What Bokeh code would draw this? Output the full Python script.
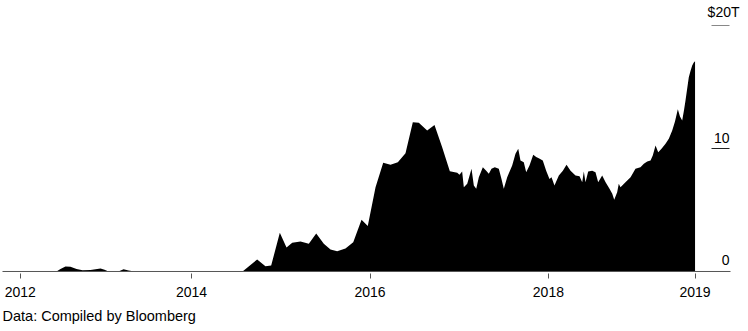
from bokeh.plotting import figure
from bokeh.models import Range1d, FixedTicker, ColumnDataSource, Title
from bokeh.embed import file_html
from bokeh.resources import INLINE
from bokeh.core.properties import value

# ---- data (decimal years, $ trillions) ----
dates = [2011.880, 2012.306, 2012.396, 2012.485, 2012.530, 2012.586, 2012.642, 2012.710,
         2012.777, 2012.867, 2012.979, 2013.024, 2013.068, 2013.180, 2013.237, 2013.293,
         2013.360, 2014.571, 2014.735, 2014.828, 2014.892, 2014.989, 2015.064, 2015.128,
         2015.221, 2015.314, 2015.397, 2015.482, 2015.557, 2015.632, 2015.725, 2015.812,
         2015.905, 2015.975, 2016.062, 2016.148, 2016.230, 2016.312, 2016.398, 2016.480,
         2016.547, 2016.641, 2016.723, 2016.809, 2016.895, 2016.978,
         2017.003, 2017.033, 2017.052, 2017.090, 2017.138, 2017.164, 2017.191, 2017.220,
         2017.265, 2017.303, 2017.332, 2017.362, 2017.399, 2017.444, 2017.474, 2017.500,
         2017.538, 2017.594, 2017.631, 2017.662, 2017.687, 2017.724, 2017.751, 2017.788,
         2017.830, 2017.863, 2017.892, 2017.937, 2017.975, 2018.012, 2018.035, 2018.068,
         2018.117, 2018.162, 2018.203, 2018.248, 2018.304, 2018.349, 2018.379, 2018.397,
         2018.416, 2018.446, 2018.491, 2018.528, 2018.558, 2018.603, 2018.641, 2018.685,
         2018.716, 2018.738, 2018.771, 2018.789, 2018.808, 2018.864, 2018.921, 2018.976,
         2019.032, 2019.070, 2019.108, 2019.145, 2019.170, 2019.201, 2019.231, 2019.268,
         2019.313, 2019.350, 2019.388, 2019.419, 2019.451, 2019.475, 2019.500, 2019.520,
         2019.537, 2019.574, 2019.593, 2019.612, 2019.630, 2019.644]
debt = [0.0, 0.0, 0.02, 0.0, 0.2, 0.4, 0.38, 0.2,
        0.1, 0.12, 0.25, 0.15, 0.0, 0.0, 0.18, 0.08,
        0.0, 0.0, 0.98, 0.43, 0.49, 3.14, 1.95, 2.33,
        2.44, 2.25, 3.09, 2.25, 1.79, 1.65, 1.87, 2.38,
        4.2, 3.7, 6.85, 8.84, 8.67, 8.89, 9.62, 12.14,
        12.09, 11.46, 11.92, 10.1, 8.16, 8.02,
        7.86, 8.13, 6.85, 7.13, 8.35, 7.0, 6.72, 7.67,
        8.48, 8.2, 7.94, 8.35, 8.48, 8.35, 7.53, 6.72,
        7.67, 8.62, 9.57, 9.97, 9.02, 8.89, 8.07, 8.62,
        9.49, 9.3, 9.21, 9.02, 8.2, 7.53, 7.67, 7.0,
        7.8, 8.2, 8.67, 8.2, 7.8, 7.75, 7.26, 8.13,
        7.26, 8.13, 8.2, 8.07, 7.26, 7.8, 7.26, 6.72,
        6.32, 5.83, 6.45, 7.13, 6.85, 7.26, 7.67, 8.35,
        8.48, 8.75, 8.94, 9.02, 9.43, 10.24, 9.7, 9.97,
        10.38, 10.79, 11.46, 12.2, 13.2, 12.6, 12.28, 13.1,
        13.9, 15.8, 16.3, 16.75, 17.0, 17.1]

x_ticks = [2012.08, 2014.0, 2016.0, 2018.0, 2019.644]
x_tick_labels = ["2012", "2014", "2016", "2018", "2019"]
y_ticks = [0, 10, 20]
y_tick_labels = ["0", "10", "$20T"]
source_note = "Data: Compiled by Bloomberg"

# ---- layout helpers ----
X0 = 2011.8576          # year at left canvas edge
PPY = 89.2              # pixels per year
def px_x(px):
    return X0 + px / PPY

FONT = "Liberation Sans"

p = figure(width=748, height=331, output_backend="svg", toolbar_location=None,
           x_range=Range1d(X0, px_x(748)), y_range=Range1d(-0.163, 22.033),
           y_axis_location=None,
           min_border_left=0, min_border_right=0, min_border_top=0, min_border_bottom=58)
p.outline_line_color = None
p.grid.visible = False
p.background_fill_color = "white"

src = ColumnDataSource(dict(x=dates, y=debt))
p.varea(x="x", y1=0, y2="y", source=src, fill_color="black", fill_alpha=1.0)

# baseline
p.segment(x0=[px_x(2)], y0=[0], x1=[px_x(730)], y1=[0], line_color="#555555", line_width=1)

# y tick marks and labels (right side, label above mark)
p.segment(x0=[px_x(711)] * 2, y0=y_ticks[1:], x1=[px_x(729)] * 2, y1=y_ticks[1:],
          line_color=["#222222", "#888888"], line_width=1)
ysrc = ColumnDataSource(dict(x=[px_x(729)] * 3, y=y_ticks, t=y_tick_labels, xo=[0, 0, 10]))
p.text(x="x", y="y", text="t", source=ysrc, x_offset="xo", y_offset=-6,
       text_align="right", text_baseline="bottom", text_font=value(FONT),
       text_font_size="14px", text_color="black")

ax = p.xaxis[0]
ax.ticker = FixedTicker(ticks=x_ticks)
ax.major_label_overrides = {t: l for t, l in zip(x_ticks, x_tick_labels)}
ax.axis_line_color = None
ax.major_tick_in = 0
ax.major_tick_out = 5
ax.major_tick_line_color = "#555555"
ax.minor_tick_line_color = None
ax.major_label_text_font = FONT
ax.major_label_text_font_size = "14px"
ax.major_label_text_color = "black"
ax.major_label_standoff = 8

t = Title(text=source_note, align="left", text_font=FONT, text_font_size="14.5px",
          text_font_style="normal", text_color="black", standoff=12, offset=2)
p.add_layout(t, "below")

open("out.html", "w").write(file_html(p, INLINE))
